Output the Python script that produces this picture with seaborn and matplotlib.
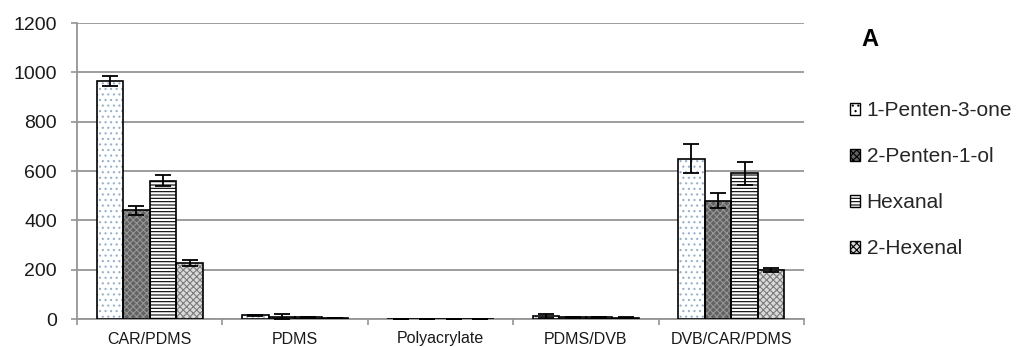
import numpy as np
import pandas as pd
import matplotlib
matplotlib.use("Agg")
import matplotlib.pyplot as plt
from matplotlib.patches import Rectangle, Patch
import seaborn as sns

# Extraction yield per SPME fiber coating and volatile compound
fibers = ["CAR/PDMS", "PDMS", "Polyacrylate", "PDMS/DVB", "DVB/CAR/PDMS"]
compounds = ["1-Penten-3-one", "2-Penten-1-ol", "Hexanal", "2-Hexenal"]

penten_3_one = [965, 15, 1, 11, 650]
penten_1_ol = [440, 10, 1, 7, 480]
hexanal = [560, 8, 1, 8, 590]
hexenal = [228, 5, 1, 6, 198]

penten_3_one_err = [22, 3, 0, 8, 58]
penten_1_ol_err = [20, 12, 0, 1, 32]
hexanal_err = [22, 2, 0, 2, 45]
hexenal_err = [13, 1, 0, 1, 8]

values = [penten_3_one, penten_1_ol, hexanal, hexenal]
errors = [penten_3_one_err, penten_1_ol_err, hexanal_err, hexenal_err]

df = pd.DataFrame({
    "fiber": np.repeat(fibers, len(compounds)),
    "compound": compounds * len(fibers),
    "value": [values[j][i] for i in range(len(fibers)) for j in range(len(compounds))],
    "err": [errors[j][i] for i in range(len(fibers)) for j in range(len(compounds))],
})

# Fill styles: (face colour, hatch, hatch colour)
styles = {
    "1-Penten-3-one": ("white", "...", "#8fb0d8"),
    "2-Penten-1-ol": ("#626262", "xxxxx", "#969696"),
    "Hexanal": ("white", "-----", "black"),
    "2-Hexenal": ("#dadada", "xxxxx", "#7c7c7c"),
}

sns.set_theme(style="white")
plt.rcParams["font.family"] = ["Liberation Sans", "DejaVu Sans"]
plt.rcParams["hatch.linewidth"] = 0.8

fig = plt.figure(figsize=(10.16, 3.47), dpi=100)
ax = fig.add_axes([77 / 1016, 1 - 319 / 347, (804 - 77) / 1016, (319 - 23) / 347])

sns.barplot(data=df, x="fiber", y="value", hue="compound", order=fibers,
            hue_order=compounds, errorbar=None, width=0.73, gap=0,
            legend=False, ax=ax, zorder=3)

# Restyle bars: hatched fill underneath, black outline on top
bars_by_hue = ax.containers
for cont, comp in zip(bars_by_hue, compounds):
    face, hatch, hcol = styles[comp]
    for patch in cont:
        patch.set_facecolor(face)
        patch.set_hatch(hatch)
        patch.set_edgecolor(hcol)
        patch.set_linewidth(0)
        outline = Rectangle(patch.get_xy(), patch.get_width(), patch.get_height(),
                            fill=False, edgecolor="black", linewidth=1.2, zorder=4)
        ax.add_patch(outline)

# Error bars at the bar centres
for cont, comp in zip(bars_by_hue, compounds):
    sub = df[df["compound"] == comp].set_index("fiber").loc[fibers]
    xs = [p.get_x() + p.get_width() / 2 for p in cont]
    ax.errorbar(xs, sub["value"].values, yerr=sub["err"].values, fmt="none",
                ecolor="black", elinewidth=1.3, capsize=5.5, capthick=1.3, zorder=5)

ax.set_ylim(0, 1200)
ax.set_xlim(-0.5, len(fibers) - 0.5)
ax.set_yticks(np.arange(0, 1201, 200))
ax.yaxis.grid(True, color="#959595", linewidth=1.3, zorder=0)
ax.xaxis.grid(False)
ax.set_xlabel("")
ax.set_ylabel("")

for side in ["top", "right"]:
    ax.spines[side].set_visible(False)
for side in ["left", "bottom"]:
    ax.spines[side].set_color("#959595")
    ax.spines[side].set_linewidth(1.3)

ax.tick_params(axis="y", which="major", left=True, length=4.5, width=1.2,
               color="#959595", labelsize=14, pad=10, labelcolor="#1a1a1a")
ax.tick_params(axis="x", which="major", bottom=False, labelsize=11.5, pad=3,
               labelcolor="#1a1a1a")
ax.set_xticks(np.arange(-0.5, len(fibers), 1.0), minor=True)
ax.tick_params(axis="x", which="minor", bottom=True, length=4, width=1.2,
               color="#959595")

handles = []
for comp in compounds:
    face, hatch, hcol = styles[comp]
    handles.append(Patch(facecolor=face, hatch=hatch, edgecolor="black",
                         linewidth=1.0, label=comp))
leg = fig.legend(handles=handles, loc="upper left",
                 bbox_to_anchor=(850 / 1016, 1 - 101 / 347), frameon=False,
                 fontsize=15, handlelength=0.5, handleheight=0.5,
                 handletextpad=0.3, labelspacing=1.3, borderpad=0,
                 borderaxespad=0)

fig.text(870 / 1016, 1 - 39 / 347, "A", fontsize=17, fontweight="bold",
         ha="center", va="center", color="black")

fig.savefig("out.png", dpi=100)
